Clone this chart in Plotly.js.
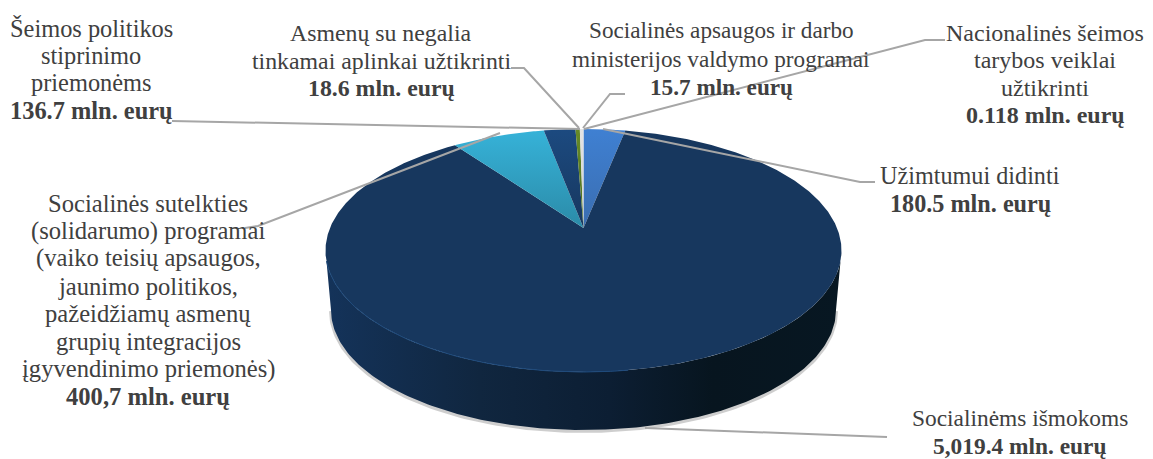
<!DOCTYPE html>
<html><head><meta charset="utf-8">
<script src="https://cdn.plot.ly/plotly-3.0.1.min.js"></script>
<style>html,body{margin:0;padding:0;background:#fff}#c{width:1153px;height:459px}</style>
</head><body><div id="c"></div>
<script>
const categories = ["Užimtumui didinti","Socialinėms išmokoms","Socialinės sutelkties (solidarumo) programai","Šeimos politikos stiprinimo priemonėms","Asmenų su negalia tinkamai aplinkai užtikrinti","Socialinės apsaugos ir darbo ministerijos valdymo programai","Nacionalinės šeimos tarybos veiklai užtikrinti"];
const values = [180.5, 5019.4, 400.7, 136.7, 18.6, 15.7, 0.118];
const labelLines = [
 ["Užimtumui didinti"],
 ["Socialinėms išmokoms"],
 ["Socialinės sutelkties","(solidarumo) programai","(vaiko teisių apsaugos,","jaunimo politikos,","pažeidžiamų asmenų","grupių integracijos","įgyvendinimo priemonės)"],
 ["Šeimos politikos","stiprinimo","priemonėms"],
 ["Asmenų su negalia","tinkamai aplinkai užtikrinti"],
 ["Socialinės apsaugos ir darbo","ministerijos valdymo programai"],
 ["Nacionalinės šeimos","tarybos veiklai","užtikrinti"]
];
const valueLabels = ["180.5 mln. eurų","5,019.4 mln. eurų","400,7 mln. eurų","136.7 mln. eurų","18.6 mln. eurų","15.7 mln. eurų","0.118 mln. eurų"];

// styling and layout, separate from the data
const sliceGradients = [
 [[0,"#3a6db0"],[1,"#3f80d2"]],
 [[0,"#17375e"],[1,"#17375e"]],
 [[0,"#2b8ba8"],[1,"#36b2d8"]],
 [[0,"#17375e"],[1,"#1c4a80"]],
 [[0,"#4f6f1f"],[1,"#668a28"]],
 [[0,"#cfcfcf"],[1,"#e4e4e4"]],
 [[0,"#f2f2f2"],[1,"#f2f2f2"]]
];
const labelX = [970,1020,148,91,381,721,1045];
const labelFirstY = [175,418,203,28,33,30,33];
const labelStep = [28,27.5,27.7,27.4,27.5,28.5,27.4];
const labelSize = [24.2,23.4,24.6,24.4,23.8,23.2,24];
const leaders = [
 [[875,182],[860,182],[603,129]],
 [[887,437],[645,428]],
 [[245,228],[258,226],[500,133]],
 [[172,121],[580,129]],
 [[511,68],[524,68],[579,128]],
 [[625,94],[610,94],[583,128]],
 [[945,40],[925,40],[584,129]]
];
const cx=583.5, apexY=228, topY=129, botY=372, rxTop=258;
const up=apexY-topY, down=botY-apexY;
const persp=(down-up)/(down+up), pk=up*(1+persp), kx=rxTop*Math.sqrt(1-persp*persp);
function rim(t){const d=1+persp*Math.cos(t);return [cx+kx*Math.sin(t)/d, apexY-pk*Math.cos(t)/d];}
const total=values.reduce((a,b)=>a+b,0);
const traces=[];
// cylinder wall and soft shadow
const ecy=(topY+botY)/2, ery=(botY-topY)/2, wallCy=310, wallRx=252.5, wallRy=120;
const wx=[],wy=[],sx=[],sy=[];
for(let a=0;a<=180;a+=1){const r=a*Math.PI/180;wx.push(cx+rxTop*Math.cos(r));wy.push(ecy+ery*Math.sin(r));}
for(let a=180;a>=0;a-=1){const r=a*Math.PI/180;const x=cx+wallRx*Math.cos(r),y=wallCy+wallRy*Math.sin(r);wx.push(x);wy.push(y);sx.push(x);sy.push(y+1);}
traces.push({x:sx,y:sy,mode:"lines",line:{color:"rgba(60,60,60,0.25)",width:4},hoverinfo:"skip"});
traces.push({x:wx,y:wy,mode:"lines",fill:"toself",line:{width:0},hoverinfo:"skip",
 fillgradient:{type:"horizontal",colorscale:[[0,"#14335a"],[0.3,"#10263f"],[0.55,"#0c1e33"],[0.75,"#07151f"],[1,"#071722"]]}});
// slices
let acc=0;
values.forEach((v,i)=>{
 const t0=acc/total*2*Math.PI; acc+=v; const t1=acc/total*2*Math.PI;
 const x=[cx],y=[apexY]; const n=Math.max(2,Math.ceil((t1-t0)/0.008));
 for(let j=0;j<=n;j++){const p=rim(t0+(t1-t0)*j/n);x.push(p[0]);y.push(p[1]);}
 x.push(cx);y.push(apexY);
 traces.push({x,y,name:categories[i],mode:"lines",fill:"toself",line:{width:0},text:categories[i]+": "+valueLabels[i],hoverinfo:"text",
  fillgradient:{type:"vertical",colorscale:sliceGradients[i]}});
});
// front rim highlight
const hx=[],hy=[];
for(let a=175;a>=80;a-=1){const r=a*Math.PI/180;hx.push(cx+rxTop*Math.cos(r));hy.push(ecy+ery*Math.sin(r));}
traces.push({x:hx,y:hy,mode:"lines",line:{color:"#1e4a7c",width:1},hoverinfo:"skip"});

const annotations=[];
labelLines.forEach((l,i)=>{
 l.concat(["<b>"+valueLabels[i]+"</b>"]).forEach((t,j)=>annotations.push({
  x:labelX[i],y:labelFirstY[i]+j*labelStep[i],xref:"x",yref:"y",xanchor:"center",yanchor:"middle",showarrow:false,align:"center",
  font:{size:labelSize[i]},text:t}));
});
const shapes=leaders.map(pts=>({type:"path",xref:"x",yref:"y",layer:"above",
 path:pts.map((p,i)=>(i?"L":"M")+p[0]+" "+p[1]).join(" "),line:{color:"#a6a6a6",width:2}}));
const layout={width:1153,height:459,margin:{l:0,r:0,t:0,b:0},showlegend:false,paper_bgcolor:"#fff",plot_bgcolor:"#fff",
 font:{family:"'Liberation Serif','Times New Roman',serif",size:24,color:"#404040"},
 xaxis:{range:[0,1153],visible:false,fixedrange:true},
 yaxis:{range:[459,0],visible:false,fixedrange:true},
 annotations,shapes};
Plotly.newPlot("c",traces,layout,{displayModeBar:false,staticPlot:true});
</script></body></html>
